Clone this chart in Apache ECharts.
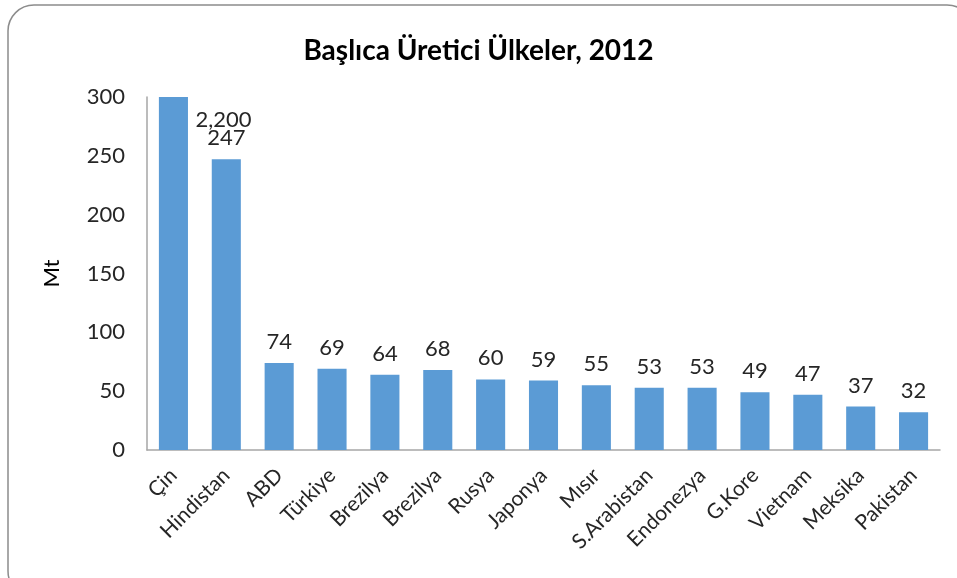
<!DOCTYPE html>
<html>
<head>
<meta charset="utf-8">
<script src="https://cdn.jsdelivr.net/npm/echarts@6/dist/echarts.min.js"></script>
<style>
  html, body { margin: 0; padding: 0; background: #fff; }
  #chart { width: 957px; height: 578px; }
</style>
</head>
<body>
<div id="chart"></div>
<script>
const categories = ['Çin', 'Hindistan', 'ABD', 'Türkiye', 'Brezilya', 'Brezilya', 'Rusya',
  'Japonya', 'Mısır', 'S.Arabistan', 'Endonezya', 'G.Kore', 'Vietnam', 'Meksika', 'Pakistan']
const production = [2200, 247, 74, 69, 64, 68, 60, 59, 55, 53, 53, 49, 47, 37, 32]
const yTicks = [0, 50, 100, 150, 200, 250, 300]

const fontFamily = 'Lato, "Open Sans", sans-serif'
const textColor = '#262626'

const chart = echarts.init(document.getElementById('chart'))

const seriesData = production.map((v, i) => {
  // Çin is off the scale: its label sits over the next bar, like the original
  if (i === 0) {
    return { value: v, label: { offset: [50, 44] } }
  }
  return v
})

const option = {
  animation: false,
  backgroundColor: '#fff',
  textStyle: { fontFamily },
  graphic: [{
    type: 'rect',
    shape: { x: 8, y: 5, width: 965, height: 592, r: 26 },
    style: { fill: 'none', stroke: '#8c8c8c', lineWidth: 1.5 },
    silent: true,
    z: -1
  }],
  title: {
    text: 'Başlıca Üretici Ülkeler, 2012',
    left: 'center',
    top: 32,
    textStyle: { fontFamily, fontSize: 28, fontWeight: 'bold', color: '#000' }
  },
  grid: { left: 147, right: 17, top: 97, bottom: 128 },
  xAxis: {
    type: 'category',
    data: categories,
    axisLine: { lineStyle: { color: '#a6a6a6', width: 1.5 } },
    axisTick: { show: false },
    axisLabel: {
      rotate: 45,
      interval: 0,
      margin: 22,
      color: textColor,
      fontSize: 21,
      fontFamily
    }
  },
  yAxis: {
    type: 'value',
    min: yTicks[0],
    max: yTicks[yTicks.length - 1],
    interval: 50,
    name: 'Mt',
    nameLocation: 'middle',
    nameGap: 84,
    nameRotate: 90,
    nameTextStyle: { color: '#000', fontSize: 22, fontFamily },
    axisLine: { show: true, lineStyle: { color: '#a6a6a6', width: 1.5 } },
    axisTick: { show: false },
    splitLine: { show: false },
    axisLabel: { color: textColor, fontSize: 22, margin: 22, fontFamily }
  },
  series: [{
    type: 'bar',
    data: seriesData,
    barWidth: '55%',
    clip: true,
    itemStyle: { color: '#5b9bd5' },
    label: {
      show: true,
      position: 'top',
      distance: 10,
      color: textColor,
      fontSize: 22,
      fontFamily,
      formatter: (p) => p.value.toLocaleString('en-US')
    }
  }]
}

chart.setOption(option)
</script>
</body>
</html>
